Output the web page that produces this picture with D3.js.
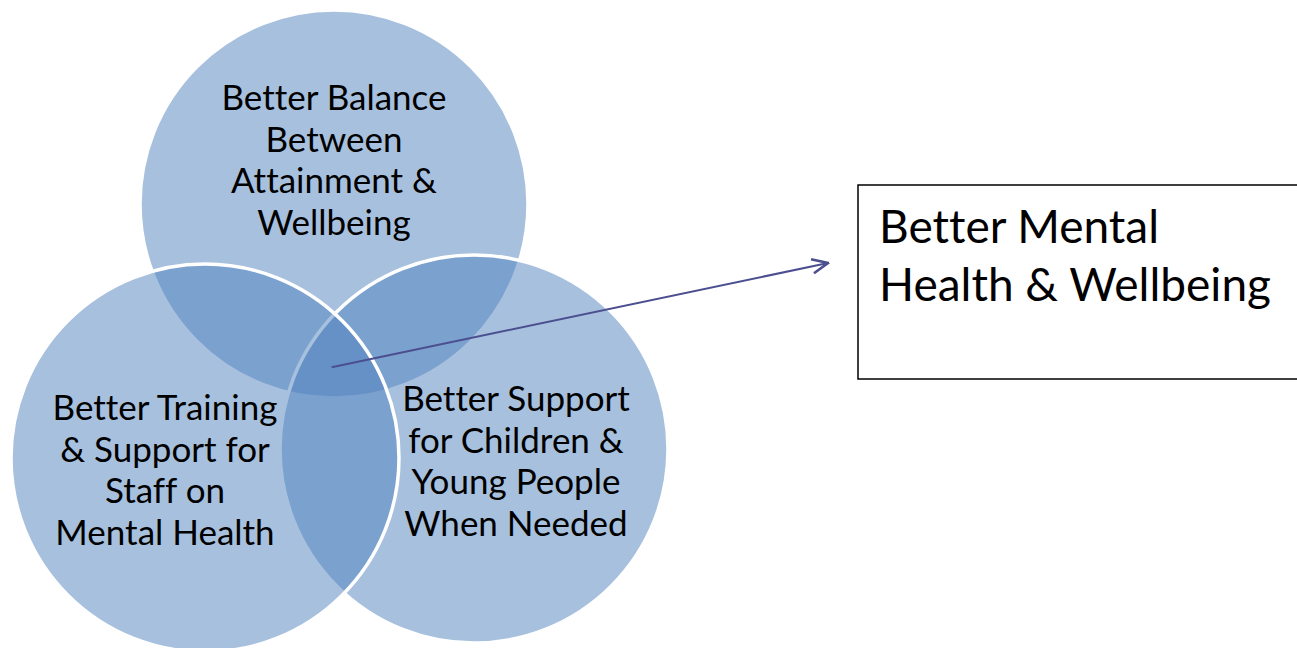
<!DOCTYPE html>
<meta charset="utf-8">
<style>
body { margin: 0; background: #fff; }
.label text { font-family: Lato, "Open Sans", sans-serif; fill: #000; font-variant-ligatures: none; }
</style>

<svg width="1297" height="648"></svg>

<script src="https://d3js.org/d3.v7.min.js"></script>
<script>

// the three sets of the diagram, drawn in this order (last one on top)
var setNames = ["balance", "support", "training"];
var setLabels = [
  ["Better Balance", "Between", "Attainment &", "Wellbeing"],
  ["Better Support", "for Children &", "Young People", "When Needed"],
  ["Better Training", "& Support for", "Staff on", "Mental Health"]
];
// the outcome where all three meet
var outcomeLabel = ["Better Mental", "Health & Wellbeing"];

var svg = d3.select("svg"),
    width = +svg.attr("width"),
    height = +svg.attr("height");

// layout of the circles (pixels) and where each label block sits
var layout = {
  balance:  {cx: 334, cy: 204, tx: 0,   ty: -94},
  support:  {cx: 474, cy: 449, tx: 42,  ty: -38},
  training: {cx: 205, cy: 458, tx: -40, ty: -38}
};
var radius = 194;

var sets = setNames.map(function(n, i) {
  return {name: n, lines: setLabels[i], cx: layout[n].cx, cy: layout[n].cy,
          tx: layout[n].tx, ty: layout[n].ty};
});

// circles, half transparent so the overlaps get darker
svg.append("g")
    .attr("class", "circles")
  .selectAll("circle")
  .data(sets)
  .enter().append("circle")
    .attr("cx", function(d) { return d.cx; })
    .attr("cy", function(d) { return d.cy; })
    .attr("r", radius)
    .style("fill", "#4f81bd")
    .style("fill-opacity", 0.5)
    .style("stroke", "#fff")
    .style("stroke-width", 3.5);

// arrow from the middle to the outcome box
svg.append("defs").append("marker")
    .attr("id", "head")
    .attr("viewBox", "0 0 12 12")
    .attr("refX", 11)
    .attr("refY", 6)
    .attr("markerWidth", 19)
    .attr("markerHeight", 19)
    .attr("markerUnits", "userSpaceOnUse")
    .attr("orient", "auto")
  .append("path")
    .attr("d", "M1,1.5 L11,6 L1,10.5")
    .style("fill", "none")
    .style("stroke", "#4b4f8f")
    .style("stroke-width", 1.6);

var centre = {
  x: d3.mean(sets, function(d) { return d.cx; }) - 6,
  y: d3.mean(sets, function(d) { return d.cy; }) - 3
};

var box = {x: 858, y: 185, w: 460, h: 194};

svg.append("line")
    .attr("x1", centre.x)
    .attr("y1", centre.y)
    .attr("x2", box.x - 30)
    .attr("y2", box.y + 78)
    .style("stroke", "#4b4f8f")
    .style("stroke-width", 2)
    .attr("marker-end", "url(#head)");

// outcome box
svg.append("rect")
    .attr("x", box.x)
    .attr("y", box.y)
    .attr("width", box.w)
    .attr("height", box.h)
    .style("fill", "#fff")
    .style("stroke", "#000")
    .style("stroke-width", 1.5);

// labels inside the circles
var lineH = 41.5;
var label = svg.append("g").attr("class", "label");
label.selectAll("text.set")
  .data(sets)
  .enter().append("text")
    .attr("class", "set")
    .attr("text-anchor", "middle")
    .style("font-size", "35px")
  .each(function(d) {
    d3.select(this).selectAll("tspan")
      .data(d.lines)
      .enter().append("tspan")
        .attr("x", d.cx + d.tx)
        .attr("y", function(l, i) { return d.cy + d.ty + i * lineH; })
        .text(function(l) { return l; });
  });

label.append("text")
    .style("font-size", "46px")
  .selectAll("tspan")
  .data(outcomeLabel)
  .enter().append("tspan")
    .attr("x", box.x + 21)
    .attr("y", function(l, i) { return box.y + 58 + i * 58; })
    .text(function(l) { return l; });

</script>
